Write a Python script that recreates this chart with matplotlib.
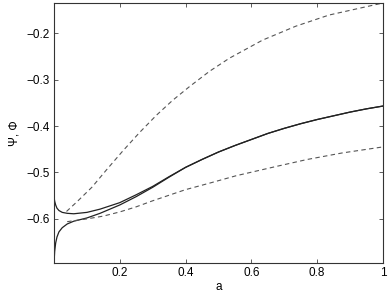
import matplotlib
matplotlib.use("Agg")
import matplotlib.pyplot as plt

# Data
a_solid = [0, 0.002, 0.005, 0.009, 0.015, 0.025, 0.04, 0.06, 0.1, 0.14, 0.2, 0.25,
           0.3, 0.35, 0.4, 0.45, 0.5, 0.55, 0.6, 0.65, 0.7, 0.75, 0.8, 0.85, 0.9,
           0.95, 1.0]
psi_solid_upper = [-0.553, -0.562, -0.570, -0.577, -0.582, -0.586, -0.588, -0.589,
                   -0.586, -0.579, -0.565, -0.548, -0.530, -0.509, -0.489, -0.472,
                   -0.456, -0.442, -0.429, -0.416, -0.405, -0.395, -0.386, -0.378,
                   -0.370, -0.363, -0.357]
phi_solid_lower = [-0.695, -0.670, -0.652, -0.639, -0.628, -0.619, -0.611, -0.605,
                   -0.598, -0.588, -0.570, -0.552, -0.532, -0.510, -0.489, -0.472,
                   -0.456, -0.442, -0.429, -0.416, -0.405, -0.395, -0.386, -0.378,
                   -0.370, -0.363, -0.357]

a_dash_up = [0.038, 0.07, 0.115, 0.16, 0.21, 0.26, 0.311, 0.36, 0.412, 0.473,
             0.533, 0.634, 0.735, 0.836, 0.937, 1.0]
dash_upper = [-0.584, -0.563, -0.532, -0.494, -0.453, -0.414, -0.377, -0.345,
              -0.315, -0.282, -0.254, -0.215, -0.185, -0.161, -0.145, -0.135]

a_dash_lo = [0.04, 0.1, 0.15, 0.2, 0.25, 0.3, 0.35, 0.4, 0.473, 0.554, 0.676,
             0.77, 0.876, 1.0]
dash_lower = [-0.606, -0.600, -0.594, -0.585, -0.574, -0.561, -0.549, -0.537,
              -0.523, -0.507, -0.487, -0.472, -0.458, -0.445]

xticks = [0.2, 0.4, 0.6, 0.8, 1.0]
xticklabels = ["0.2", "0.4", "0.6", "0.8", "1"]
yticks = [-0.6, -0.5, -0.4, -0.3, -0.2]
yticklabels = ["\u22120.6", "\u22120.5", "\u22120.4", "\u22120.3", "\u22120.2"]

plt.rcParams['font.family'] = ['Liberation Sans', 'DejaVu Sans']

fig = plt.figure(figsize=(3.9, 2.97), dpi=100)
ax = fig.add_axes([0.1385, 0.1145, 0.982 - 0.1385, 0.99 - 0.1145])

ax.plot(a_solid, psi_solid_upper, color='#222222', lw=0.9)
ax.plot(a_solid, phi_solid_lower, color='#222222', lw=0.9)
ax.plot(a_dash_up, dash_upper, color='#555555', lw=0.8, dashes=(4, 3))
ax.plot(a_dash_lo, dash_lower, color='#555555', lw=0.8, dashes=(4, 3))

ax.set_xlim(0, 1)
ax.set_ylim(-0.695, -0.135)
ax.set_xticks(xticks)
ax.set_xticklabels(xticklabels)
ax.set_yticks(yticks)
ax.set_yticklabels(yticklabels)
ax.tick_params(direction='in', top=True, right=True, length=3, width=0.6,
               labelsize=8.5, color='#444444', pad=3)
for s in ax.spines.values():
    s.set_linewidth(0.8)
    s.set_color('#333333')

ax.set_xlabel('a', fontsize=8.5, labelpad=1)
ax.set_ylabel('\u03a8, \u03a6', fontsize=8.5, labelpad=4)

fig.savefig('out.png', dpi=100)
